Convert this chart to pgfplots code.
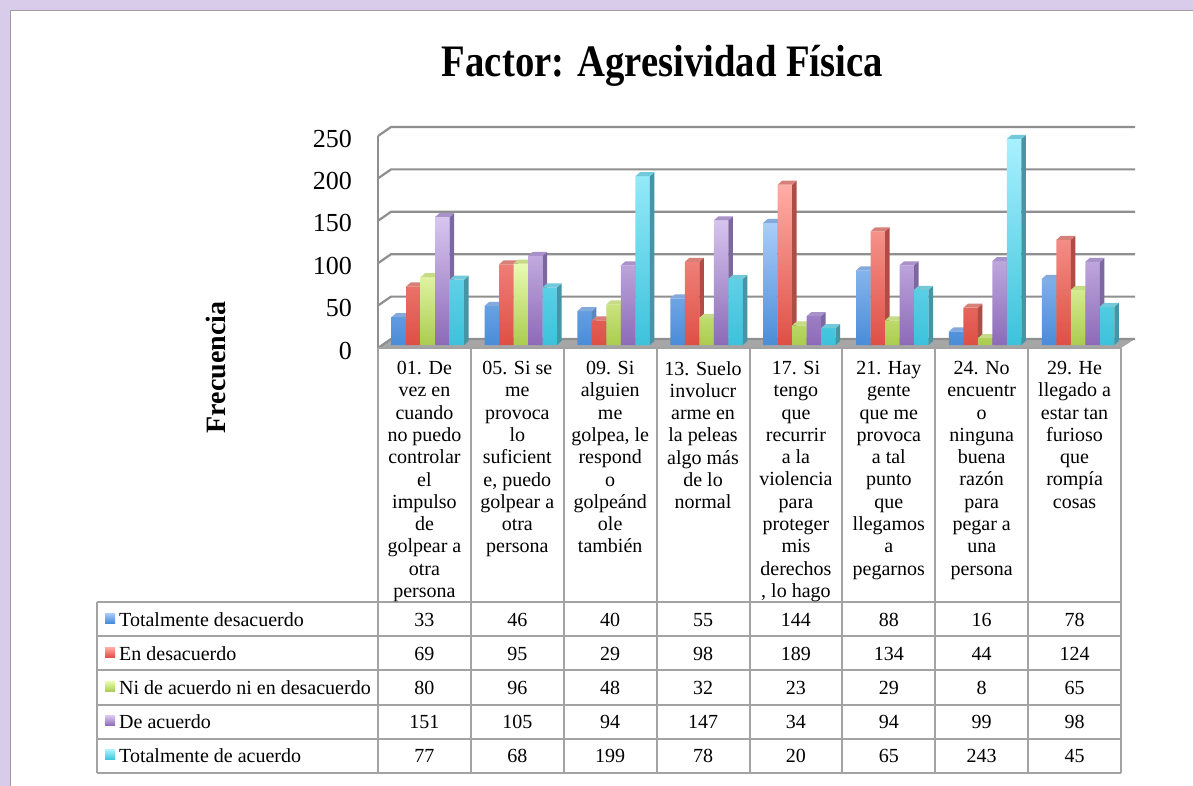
\documentclass[border=0pt]{standalone}
\usepackage{pgfplots}
\usepackage{pgfplotstable}
\pgfplotsset{compat=1.18}
\usepackage{fontspec}
\setmainfont{Liberation Serif}
\newfontfamily\titlefont{Liberation Serif}[FakeStretch=0.86]

\definecolor{frameP}{HTML}{D9CBEA}
\definecolor{gridG}{HTML}{8F8F8F}
\definecolor{tabG}{HTML}{A3A3A3}
\definecolor{floorG}{HTML}{A6A6A6}
\definecolor{bTop}{HTML}{AACDF8}\definecolor{bBot}{HTML}{4A8CD8}\definecolor{bSide}{HTML}{5B86BE}\definecolor{bCap}{HTML}{84A9DC}
\definecolor{rTop}{HTML}{FFADA6}\definecolor{rBot}{HTML}{DE4F45}\definecolor{rSide}{HTML}{AE4C45}\definecolor{rCap}{HTML}{D68079}
\definecolor{gTop}{HTML}{E9FAB2}\definecolor{gBot}{HTML}{AACC4E}\definecolor{gSide}{HTML}{98B158}\definecolor{gCap}{HTML}{C6DB86}
\definecolor{pTop}{HTML}{D8C6EF}\definecolor{pBot}{HTML}{8C6AB8}\definecolor{pSide}{HTML}{7D67A0}\definecolor{pCap}{HTML}{A991C9}
\definecolor{cTop}{HTML}{A8F1FF}\definecolor{cBot}{HTML}{3CC2DB}\definecolor{cSide}{HTML}{4595A6}\definecolor{cCap}{HTML}{72C9D9}

\pgfplotstableread{
x td ed ni da ta
0 33 69 80 151 77
1 46 95 96 105 68
2 40 29 48 94 199
3 55 98 32 147 78
4 144 189 23 34 20
5 88 134 29 94 65
6 16 44 8 99 243
7 78 124 65 98 45
}\datatable

% side face and top face of a bar, drawn at the node near coord of each bar
\newcommand\barfaces[3]{% side colour, cap colour, bar shift
  \pgfinterruptpath
  \begin{pgfscope}%
  \pgfpointanchor{\tikzlastnode}{center}%
  \pgfgetlastxy{\nx}{\ny}%
  \pgfmathsetmacro\hh{\rawy*0.848}%
  \pgfsetfillcolor{#1}%
  \pgfpathmoveto{\pgfpoint{\nx+(#3)+7.25pt}{\ny}}%
  \pgfpathlineto{\pgfpoint{\nx+(#3)+11.75pt}{\ny+4pt}}%
  \pgfpathlineto{\pgfpoint{\nx+(#3)+11.75pt}{\ny+4pt-\hh pt}}%
  \pgfpathlineto{\pgfpoint{\nx+(#3)+7.25pt}{\ny-\hh pt}}%
  \pgfpathclose
  \pgfusepath{fill}%
  \pgfsetfillcolor{#2}%
  \pgfpathmoveto{\pgfpoint{\nx+(#3)-7.25pt}{\ny}}%
  \pgfpathlineto{\pgfpoint{\nx+(#3)-2.75pt}{\ny+4pt}}%
  \pgfpathlineto{\pgfpoint{\nx+(#3)+11.75pt}{\ny+4pt}}%
  \pgfpathlineto{\pgfpoint{\nx+(#3)+7.25pt}{\ny}}%
  \pgfpathclose
  \pgfusepath{fill}%
  \end{pgfscope}%
  \endpgfinterruptpath
}

\pgfplotsset{
  bar3d/.style n args={5}{%
    top color=#1, bottom color=#2, draw=none,
    nodes near coords={},
    visualization depends on=rawy \as \rawy,
    every node near coord/.style={shape=coordinate,
      append after command={\pgfextra{\barfaces{#3}{#4}{#5}}}},
  },
}

\begin{document}
\begin{tikzpicture}
\useasboundingbox (0,0) rectangle (1193pt,-786pt);
\begin{scope}[x=1pt,y=-1pt]
  % frame
  \fill[frameP] (0,0) rectangle (1193,786);
  \fill[white] (10,10) rectangle (1193,786);
  \draw[gray!75, line width=1.5] (10.5,786) -- (10.5,10.5) -- (1193,10.5);
  % title
  \node[anchor=base, inner sep=0pt] at (662.5,77) {\titlefont\bfseries\fontsize{45}{45}\selectfont Factor: Agresividad Física};
  % y label
  \node[rotate=90, inner sep=0pt] at (216,367.5) {\bfseries\fontsize{28}{28}\selectfont Frecuencia};
  % floor
  \fill[floorG] (378,348) -- (391,339) -- (1135,339) -- (1121,348) -- cycle;
  % grid lines on back wall
  \foreach \v in {0,50,...,250} {
    \pgfmathsetmacro\yf{348-0.848*\v}
    \draw[gridG, line width=2.2] (378,\yf) -- (391,\yf-9) -- (1135,\yf-9);
  }
  \draw[gridG, line width=2.2] (378,136) -- (378,348);
\end{scope}

\begin{axis}[
  at={(381.5pt,-345pt)}, anchor=south west,
  scale only axis, width=743pt, height=212pt,
  xmin=-0.5, xmax=7.5, ymin=0, ymax=250,
  ybar=0pt, bar width=14.5pt,
  axis line style={draw=none},
  xtick=\empty,
  ytick={0,50,...,250},
  major tick length=0pt,
  yticklabel style={font=\fontsize{26}{26}\selectfont, anchor=east, inner sep=0pt, xshift=-29.5pt, yshift=-5.5pt},
  /pgf/number format/assume math mode=true,
  clip=false, clip marker paths=true,
]
\addplot[bar3d={bTop}{bBot}{bSide}{bCap}{-29pt}] table[x=x,y=td]{\datatable};
\addplot[bar3d={rTop}{rBot}{rSide}{rCap}{-14.5pt}] table[x=x,y=ed]{\datatable};
\addplot[bar3d={gTop}{gBot}{gSide}{gCap}{0pt}] table[x=x,y=ni]{\datatable};
\addplot[bar3d={pTop}{pBot}{pSide}{pCap}{14.5pt}] table[x=x,y=da]{\datatable};
\addplot[bar3d={cTop}{cBot}{cSide}{cCap}{29pt}] table[x=x,y=ta]{\datatable};
\end{axis}

\begin{scope}[x=1pt,y=-1pt]
  % table lines
  \draw[tabG, line width=2] (378,348) -- (1121,348);
  \foreach \yy in {602,636.2,670.4,704.6,738.8,773}
    \draw[tabG, line width=2] (97,\yy) -- (1121,\yy);
  \draw[tabG, line width=2] (97,602) -- (97,773);
  \foreach \k in {0,...,8}
    \draw[tabG, line width=2] ({378+92.875*\k},348) -- ({378+92.875*\k},773);
  % category labels
  \foreach \k/\txt in {
    0/{01. De\\vez en\\cuando\\no puedo\\controlar\\el\\impulso\\de\\golpear a\\otra\\persona},
    1/{05. Si se\\me\\provoca\\lo\\suficient\\e, puedo\\golpear a\\otra\\persona},
    2/{09. Si\\alguien\\me\\golpea, le\\respond\\o\\golpeánd\\ole\\también},
    3/{13. Suelo\\involucr\\arme en\\la peleas\\algo más\\de lo\\normal},
    4/{17. Si\\tengo\\que\\recurrir\\a la\\violencia\\para\\proteger\\mis\\derechos\\, lo hago},
    5/{21. Hay\\gente\\que me\\provoca\\a tal\\punto\\que\\llegamos\\a\\pegarnos},
    6/{24. No\\encuentr\\o\\ninguna\\buena\\razón\\para\\pegar a\\una\\persona},
    7/{29. He\\llegado a\\estar tan\\furioso\\que\\rompía\\cosas}}
    \node[anchor=north, align=center, inner sep=0pt, font=\fontsize{20}{22.3}\selectfont]
      at ({378+92.875*(\k+0.5)},361) {\txt};
  % values
  \foreach \c/\row in {td/0,ed/1,ni/2,da/3,ta/4} {
    \foreach \r in {0,...,7} {
      \pgfplotstablegetelem{\r}{\c}\of\datatable
      \node[anchor=base, inner sep=0pt, font=\fontsize{20}{20}\selectfont]
        at ({378+92.875*(\r+0.5)},{626+34.2*\row}) {\pgfplotsretval};
    }
  }
  % series names with markers
  \foreach \row/\name/\ct/\cb in {0/Totalmente desacuerdo/bTop/bBot,1/En desacuerdo/rTop/rBot,2/Ni de acuerdo ni en desacuerdo/gTop/gBot,3/De acuerdo/pTop/pBot,4/Totalmente de acuerdo/cTop/cBot} {
    \shade[top color=\ct, bottom color=\cb] (105,{613+34.2*\row}) rectangle (115,{623+34.2*\row});
    \node[anchor=base west, inner sep=0pt, font=\fontsize{20}{20}\selectfont] at (119,{626+34.2*\row}) {\name};
  }
\end{scope}
\end{tikzpicture}
\end{document}
